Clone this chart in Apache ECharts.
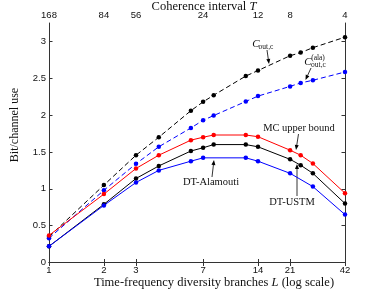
<!DOCTYPE html>
<html><head><meta charset="utf-8">
<script src="https://cdn.jsdelivr.net/npm/echarts@6/dist/echarts.min.js"></script>
<style>html,body{margin:0;padding:0;background:#fff}#c{width:382px;height:296px}</style>
</head><body><div id="c"></div>
<script>
// Data
const L = [1, 2, 3, 4, 6, 7, 8, 12, 14, 21, 24, 28, 42];
const cOut = [0.35, 1.05, 1.456, 1.70, 2.06, 2.18, 2.27, 2.53, 2.605, 2.806, 2.848, 2.915, 3.058];
const cOutAla = [0.33, 0.98, 1.34, 1.57, 1.826, 1.93, 1.994, 2.185, 2.258, 2.39, 2.437, 2.473, 2.585];
const mcUpper = [0.368, 0.928, 1.276, 1.456, 1.66, 1.70, 1.73, 1.73, 1.707, 1.524, 1.456, 1.343, 0.94];
const dtUstm = [0.22, 0.79, 1.14, 1.31, 1.513, 1.557, 1.60, 1.60, 1.57, 1.40, 1.32, 1.21, 0.80];
const LAla = [1, 2, 3, 4, 6, 7, 12, 14, 21, 28, 42];
const dtAla = [0.22, 0.775, 1.086, 1.25, 1.375, 1.42, 1.42, 1.375, 1.21, 1.03, 0.65];
const bottomTicks = [1, 2, 3, 7, 14, 21, 42];
const topTickLabels = [168, 84, 56, 24, 12, 8, 4];
const yTicks = [0, 0.5, 1, 1.5, 2, 2.5, 3];

const chart = echarts.init(document.getElementById('c'), null, {renderer: 'canvas'});
const pair = (xs, ys) => xs.map((x, i) => [x, ys[i]]);
const axisCol = '#333';
const tickFont = {fontFamily: 'Liberation Sans', fontSize: 9.5, color: '#111'};
const serif = 'Liberation Serif';

function mkSeries(name, xs, ys, color, dashed) {
  return {
    name, type: 'line', data: pair(xs, ys), xAxisIndex: 0, yAxisIndex: 0,
    symbol: 'circle', symbolSize: 4.5, showSymbol: true,
    itemStyle: {color}, lineStyle: {color, width: 1, type: dashed ? [5, 3] : 'solid'},
    emphasis: {disabled: true}, animation: false
  };
}
function idxOf(v) {
  let best = 0, bd = Infinity;
  bottomTicks.forEach((t, i) => { const d = Math.abs(Math.log(t) - Math.log(v)); if (d < bd) { bd = d; best = i; } });
  return best;
}

function arrow(x1, y1, x2, y2) {
  const a = Math.atan2(y2 - y1, x2 - x1), len = 5, w = 2;
  const bx = x2 - len * Math.cos(a), by = y2 - len * Math.sin(a);
  const px = -Math.sin(a) * w, py = Math.cos(a) * w;
  return [
    {type: 'line', shape: {x1, y1, x2: bx, y2: by}, style: {stroke: '#000', lineWidth: 0.8}},
    {type: 'polygon', shape: {points: [[x2, y2], [bx + px, by + py], [bx - px, by - py]]}, style: {fill: '#000'}}
  ];
}
function txt(x, y, text, size, opts) {
  return {type: 'text', x, y, style: Object.assign({text, fontFamily: serif, fontSize: size, fill: '#111', align: 'center', verticalAlign: 'middle'}, opts || {})};
}
function richTxt(x, y, text, size) {
  return txt(x, y, text, size, {rich: {
    n: {fontFamily: serif, fontSize: size, fill: '#111'},
    i: {fontFamily: serif, fontSize: size, fontStyle: 'italic', fill: '#111'}
  }});
}

const yTitle = txt(15, 125, 'Bit/channel use', 12);
yTitle.rotation = Math.PI / 2;

const graphics = [
  yTitle,
  richTxt(214, 283, '{n|Time-frequency diversity branches }{i|L}{n| (log scale)}', 12.5),
  richTxt(204, 7, '{n|Coherence interval }{i|T}', 12.5),
  // C_out,c
  txt(256, 44, 'C', 11, {fontStyle: 'italic'}),
  txt(266, 47.5, 'out,c', 7.5),
  // C_out,c^(ala)
  txt(308, 62, 'C', 11, {fontStyle: 'italic'}),
  txt(318, 58.5, '(ala)', 7.5),
  txt(318.5, 65.5, 'out,c', 7.5),
  txt(299, 128.5, 'MC upper bound', 10.5),
  txt(292, 202, 'DT-USTM', 10.5),
  txt(211, 182, 'DT-Alamouti', 10.5),
  ...arrow(267, 50, 269, 64),
  ...arrow(311, 68, 305.5, 80),
  ...arrow(298.5, 134, 296, 150),
  ...arrow(297, 196, 297, 164),
  ...arrow(212, 177, 214, 160)
];

const option = {
  animation: false,
  backgroundColor: '#fff',
  grid: {left: 49, right: 37, top: 23, bottom: 33.5, containLabel: false, show: false},
  xAxis: [
    {type: 'log', logBase: 10, min: 1, max: 42, position: 'bottom',
     axisLine: {show: true, lineStyle: {color: axisCol, width: 1}},
     axisTick: {show: true, inside: true, length: 3.5, customValues: bottomTicks, lineStyle: {color: axisCol}},
     minorTick: {show: false}, splitLine: {show: false},
     axisLabel: Object.assign({show: true, margin: 3, customValues: bottomTicks,
       formatter: v => String(bottomTicks[idxOf(v)])}, tickFont)},
    {type: 'log', logBase: 10, min: 1, max: 42, position: 'top',
     axisLine: {show: true, lineStyle: {color: axisCol, width: 1}},
     axisTick: {show: true, inside: true, length: 3.5, customValues: bottomTicks, lineStyle: {color: axisCol}},
     minorTick: {show: false}, splitLine: {show: false},
     axisLabel: Object.assign({show: true, margin: 3, customValues: bottomTicks,
       formatter: v => String(topTickLabels[idxOf(v)])}, tickFont)}
  ],
  yAxis: [
    {type: 'value', min: 0, max: 3.25, position: 'left',
     axisLine: {show: true, lineStyle: {color: axisCol, width: 1}},
     axisTick: {show: true, inside: true, length: 3.5, customValues: yTicks, lineStyle: {color: axisCol}},
     splitLine: {show: false},
     axisLabel: Object.assign({show: true, margin: 3, customValues: yTicks, formatter: v => String(v)}, tickFont)},
    {type: 'value', min: 0, max: 3.25, position: 'right',
     axisLine: {show: true, lineStyle: {color: axisCol, width: 1}},
     axisTick: {show: true, inside: true, length: 3.5, customValues: yTicks, lineStyle: {color: axisCol}},
     splitLine: {show: false}, axisLabel: {show: false}}
  ],
  series: [
    mkSeries('C_out,c', L, cOut, '#000000', true),
    mkSeries('C_out,c^(ala)', L, cOutAla, '#0000ff', true),
    mkSeries('MC upper bound', L, mcUpper, '#ff0000', false),
    mkSeries('DT-USTM', L, dtUstm, '#000000', false),
    mkSeries('DT-Alamouti', LAla, dtAla, '#0000ff', false)
  ],
  graphic: {elements: graphics}
};
chart.setOption(option);
</script></body></html>
